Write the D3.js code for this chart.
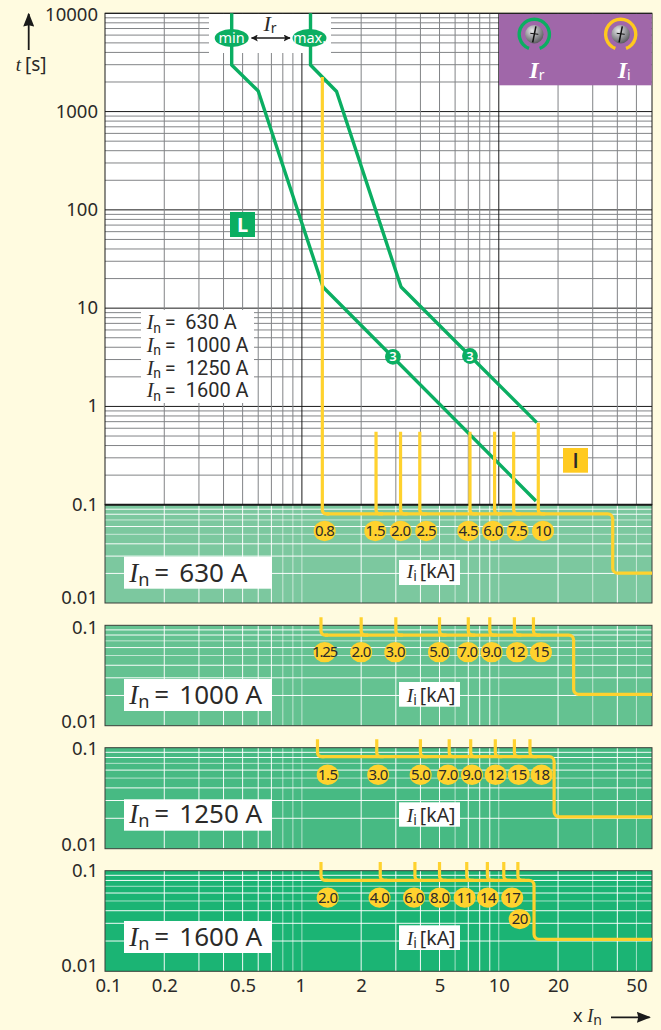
<!DOCTYPE html>
<html><head><meta charset="utf-8">
<script src="https://cdn.jsdelivr.net/npm/d3@7"></script>
<style>
html,body{margin:0;padding:0;background:#FFFBE0;}
svg{display:block;}
text{font-family:"Noto Sans",sans-serif;fill:#2b2a29;}
.it{font-family:"Liberation Serif",serif;font-style:italic;}
.rb{font-family:Roboto,sans-serif;}
</style></head><body>
<svg id="c" width="661" height="1030"></svg>
<script>
// ---------- data ----------
const xTickLabels = [0.1,0.2,0.5,1,2,5,10,20,50];
const mainTimeTicks = [10000,1000,100,10,1,0.1,0.01];
const panelTimeTicks = [0.1,0.01];

const curveMinX = [0.44,0.44,0.60,1.28,15.45];
const curveMinT = [10000,2980,1620,16.4,0.109];
const curveMaxX = [1.106,1.106,1.50,3.19,15.6];
const curveMaxT = [10000,2980,1600,16.4,0.684];
const markerX = [2.9,7.14];
const markerT = [3.2,3.26];

const labels630 = ["0.8","1.5","2.0","2.5","4.5","6.0","7.5","10"];
const stems630 = [1.27,2.38,3.17,3.97,7.14,9.52,11.9,15.87];
const tops630 = [2250,0.554,0.554,0.554,0.554,0.554,0.554,0.684];
const bubbleX630 = [1.305,2.36,3.175,4.28,7.0,9.34,12.47,16.77];
const bubbleT630 = [0.054,0.054,0.054,0.054,0.054,0.054,0.054,0.054];

const labels1000 = ["1.25","2.0","3.0","5.0","7.0","9.0","12","15"];
const stems1000 = [1.25,2,3,5,7,9,12,15];
const bubbleX1000 = [1.305,2.0,2.98,4.97,6.97,9.2,12.37,16.38];
const bubbleT1000 = [0.054,0.054,0.054,0.054,0.054,0.054,0.054,0.054];

const labels1250 = ["1.5","3.0","5.0","7.0","9.0","12","15","18"];
const stems1250 = [1.2,2.4,4,5.6,7.2,9.6,12,14.4];
const bubbleX1250 = [1.352,2.44,4.01,5.52,7.31,9.64,12.62,16.5];
const bubbleT1250 = [0.054,0.054,0.054,0.054,0.054,0.054,0.054,0.054];

const labels1600 = ["2.0","4.0","6.0","8.0","11","14","17","20"];
const stems1600 = [1.25,2.5,3.75,5,6.875,8.75,10.6,12.5];
const bubbleX1600 = [1.352,2.48,3.71,5.01,6.71,8.81,11.7,12.77];
const bubbleT1600 = [0.054,0.054,0.054,0.054,0.054,0.054,0.054,0.033];

const stepX = [37.9,24,19.1,15.1];
const stepHighT = [0.0806,0.08,0.0815,0.0803];
const stepLowT = [0.0201,0.0205,0.0207,0.0208];
const stemTopT = [0.12,0.121,0.122];
const ratedLabels = ["630 A","1000 A","1250 A","1600 A"];

// ---------- scales ----------
const GREEN="#0BAE62", YEL="#FFD22E", GRID="#828487", DARK="#1a1a1a";
const svg=d3.select("#c");
const X0=105, X1=652;
const x=d3.scaleLog().domain([0.1,60]).range([X0,X1]);
const yMain=d3.scaleLog().domain([10000,0.01]).range([13.3,603]);
const yP=[
  d3.scaleLog().domain([0.1,0.01]).range([625.3,725.7]),
  d3.scaleLog().domain([0.1,0.01]).range([747.7,848.7]),
  d3.scaleLog().domain([0.1,0.01]).range([870.7,971.3])
];
const panelFill=["#7CC89F","#64C291","#47BA83","#1BB474"];
const isDecade=v=>Math.abs(Math.log10(v)-Math.round(Math.log10(v)))<1e-6;

// ---------- main plot background and grid ----------
svg.append("rect").attr("x",X0).attr("y",yMain(10000)).attr("width",X1-X0).attr("height",yMain(0.1)-yMain(10000)).attr("fill","#fff");
const gMain=svg.append("g");
const upperT=yMain.ticks().filter(v=>v>0.1+1e-9);
gMain.selectAll(".hg").data(upperT).join("line")
  .attr("x1",X0).attr("x2",X1).attr("y1",yMain).attr("y2",yMain)
  .attr("stroke",d=>isDecade(d)?DARK:GRID).attr("stroke-width",1);
gMain.selectAll(".vg").data(x.ticks().filter(v=>v>0.1&&v<60)).join("line")
  .attr("x1",x).attr("x2",x).attr("y1",yMain(10000)).attr("y2",yMain(0.1))
  .attr("stroke",d=>isDecade(d)?DARK:GRID).attr("stroke-width",1);

// white masks over the grid
function box(x0,y0,x1,y1,f){svg.append("rect").attr("x",x0).attr("y",y0).attr("width",x1-x0).attr("height",y1-y0).attr("fill",f||"#fff");}
box(209,14,331,53);
box(141,310,254,403);
svg.append("rect").attr("x",X0).attr("y",yMain(10000)).attr("width",X1-X0).attr("height",yMain(0.1)-yMain(10000))
  .attr("fill","none").attr("stroke",DARK).attr("stroke-width",1);

// ---------- lower panels ----------
function panel(fill,y,top,bot){
  const g=svg.append("g");
  g.append("rect").attr("x",X0).attr("y",top).attr("width",X1-X0).attr("height",bot-top).attr("fill",fill);
  const ys=d3.scaleLog().domain([0.1,0.01]).ticks().filter(v=>v>0.01+1e-9&&v<0.1-1e-9);
  g.selectAll(".h").data(ys).join("line").attr("x1",X0).attr("x2",X1).attr("y1",y).attr("y2",y)
    .attr("stroke","#fff").attr("stroke-opacity",d=>(Math.abs(d-0.07)<1e-6||Math.abs(d-0.05)<1e-6)?0.6:0.95);
  g.selectAll(".v").data(x.ticks().filter(v=>v>0.1&&v<60)).join("line").attr("x1",x).attr("x2",x).attr("y1",top).attr("y2",bot)
    .attr("stroke","#fff").attr("stroke-opacity",d=>(Math.abs(d-0.8)<1e-6||Math.abs(d-0.9)<1e-6||Math.abs(d-1)<1e-6||d===6||d===10||d===30||d===50)?0.6:0.95);
  return g;
}
panel(panelFill[0],yMain,yMain(0.1),yMain(0.01));
yP.forEach((y,i)=>panel(panelFill[i+1],y,y(0.1),y(0.01)));

// panel borders
[yMain,yP[0],yP[1],yP[2]].forEach(y=>{
  svg.append("rect").attr("x",X0).attr("y",y(0.1)).attr("width",X1-X0).attr("height",y(0.01)-y(0.1))
    .attr("fill","none").attr("stroke","#3a3f3a").attr("stroke-width",1);
});
svg.append("line").attr("x1",X0).attr("x2",X1).attr("y1",yMain(0.1)).attr("y2",yMain(0.1)).attr("stroke",DARK).attr("stroke-width",2);

// ---------- rated-current text ----------
function inLabel(px,base,size,txt,dN,dE,dV,cls){
  svg.append("text").attr("class","it").attr("x",px).attr("y",base).attr("font-size",size*1.04).text("I");
  svg.append("text").attr("class",cls).attr("x",px+dN).attr("y",base+size*0.16).attr("font-size",size*0.7).text("n");
  svg.append("text").attr("class",cls).attr("x",px+dE).attr("y",base).attr("font-size",size).text("=");
  svg.append("text").attr("class",cls).attr("x",px+dV).attr("y",base).attr("font-size",size).text(txt);
}
[329.3,352,375,397.3].forEach((b,i)=>inLabel(146.7,b,20,ratedLabels[i],6.5,18,i===0?38.5:39,"rb"));
[[556.7,588.7,582.3],[679,711,704.3],[799.3,830.7,823.3],[921,953,946]].forEach((r,i)=>{
  box(124,r[0],272,r[1]);
  inLabel(129.3,r[2],26,ratedLabels[i],9,25,50,null);
});
[[560,585,578.3],[682,706.7,701.7],[802.3,826.7,821.7],[925.3,950,945]].forEach(r=>{
  box(399,r[0],460,r[1]);
  const t=svg.append("text").attr("x",406.7).attr("y",r[2]).attr("font-size",19.5);
  t.append("tspan").attr("class","it").text("I");
  t.append("tspan").attr("font-size",14).attr("dy",3).text("i");
  t.append("tspan").attr("dy",-3).attr("dx",3).text("[kA]");
});

// ---------- curves ----------
const line=d3.line().x(d=>x(d[0])).y(d=>yMain(d[1]));
[[curveMinX,curveMinT],[curveMaxX,curveMaxT]].forEach(([xs,ts])=>{
  svg.append("path").attr("d",line(xs.map((v,i)=>[v,ts[i]]))).attr("fill","none").attr("stroke",GREEN).attr("stroke-width",3.4).attr("stroke-linejoin","round");
});
// Ir selector
[[curveMinX[0],"min"],[curveMaxX[0],"max."]].forEach(([v,t])=>{
  svg.append("ellipse").attr("cx",x(v)-(t==="max."?1:0)).attr("cy",38).attr("rx",17).attr("ry",9).attr("fill",GREEN);
  svg.append("text").attr("x",x(v)-(t==="max."?1:0)).attr("y",43.3).attr("text-anchor","middle").attr("font-size",14.5).style("fill","#fff").text(t);
});
svg.append("defs").html(`<marker id="ah" viewBox="0 0 10 10" refX="9" refY="5" markerWidth="7" markerHeight="7" markerUnits="userSpaceOnUse" orient="auto-start-reverse"><path d="M0,0L10,5L0,10L2,5Z" fill="#1a1a1a"/></marker>
<marker id="ab" viewBox="0 0 10 10" refX="9" refY="5" markerWidth="14" markerHeight="11" markerUnits="userSpaceOnUse" orient="auto" preserveAspectRatio="none"><path d="M0,0L10,5L0,10L1,5Z" fill="#1a1a1a"/></marker>
<radialGradient id="knob" cx="0.38" cy="0.3" r="0.8"><stop offset="0" stop-color="#e8e8ea"/><stop offset="0.55" stop-color="#8f9094"/><stop offset="1" stop-color="#4a4b4f"/></radialGradient>`);
svg.append("line").attr("x1",251.5).attr("x2",290).attr("y1",38).attr("y2",38).attr("stroke",DARK).attr("stroke-width",1.5)
  .attr("marker-start","url(#ah)").attr("marker-end","url(#ah)");
const irT=svg.append("text").attr("x",263.5).attr("y",31).attr("font-size",22);
irT.append("tspan").attr("class","it").text("I");
irT.append("tspan").attr("font-size",14).attr("dy",2).text("r");

// ---------- yellow instantaneous trip lines ----------
function rounded(pts,r){
  const p=d3.path();p.moveTo(pts[0][0],pts[0][1]);
  for(let i=1;i<pts.length-1;i++)p.arcTo(pts[i][0],pts[i][1],pts[i+1][0],pts[i+1][1],r);
  const l=pts[pts.length-1];p.lineTo(l[0],l[1]);return p.toString();
}
function yl(d){svg.append("path").attr("d",d).attr("fill","none").attr("stroke",YEL).attr("stroke-width",3.2);}
function trip(y,stems,tops,hi,lo,stepx){
  stems.forEach((s,i)=>{
    const f=x(s), h=y(hi);
    yl(rounded([[f,y(tops[i])],[f,h],[f+7,h]],4));
  });
  yl(rounded([[x(stems[0])+4,y(hi)],[x(stepx),y(hi)],[x(stepx),y(lo)],[X1,y(lo)]],5));
}
function bubbles(y,labels,bx,bt){
  labels.forEach((l,i)=>{
    const cx=x(bx[i]),cy=y(bt[i]);
    svg.append("ellipse").attr("cx",cx).attr("cy",cy).attr("rx",11).attr("ry",10.2).attr("fill",YEL);
    svg.append("text").attr("x",cx).attr("y",cy+5).attr("text-anchor","middle").attr("font-size",15)
      .attr("letter-spacing",l.length>3?-1.2:-0.6).text(l);
  });
}
trip(yMain,stems630,tops630,stepHighT[0],stepLowT[0],stepX[0]);
trip(yP[0],stems1000,stems1000.map(()=>stemTopT[0]),stepHighT[1],stepLowT[1],stepX[1]);
trip(yP[1],stems1250,stems1250.map(()=>stemTopT[1]),stepHighT[2],stepLowT[2],stepX[2]);
trip(yP[2],stems1600,stems1600.map(()=>stemTopT[2]),stepHighT[3],stepLowT[3],stepX[3]);
bubbles(yMain,labels630,bubbleX630,bubbleT630);
bubbles(yP[0],labels1000,bubbleX1000,bubbleT1000);
bubbles(yP[1],labels1250,bubbleX1250,bubbleT1250);
bubbles(yP[2],labels1600,bubbleX1600,bubbleT1600);

// green "3" markers
markerX.forEach((v,i)=>{
  svg.append("circle").attr("cx",x(v)).attr("cy",yMain(markerT[i])).attr("r",7.9).attr("fill",GREEN);
  svg.append("text").attr("x",x(v)).attr("y",yMain(markerT[i])+4.7).attr("text-anchor","middle").attr("font-size",13).attr("font-weight",600).style("fill","#fff").text("3");
});

// L and I tags
box(230,212,255,237,GREEN);
svg.append("text").attr("x",242.5).attr("y",232).attr("text-anchor","middle").attr("font-size",20).attr("font-weight",700).style("fill","#fff").text("L");
box(563,448,588,472.7,"#FFCA20");
svg.append("text").attr("class","rb").attr("x",575.5).attr("y",467.5).attr("text-anchor","middle").attr("font-size",20).attr("font-weight",500).text("I");

// ---------- purple setting panel ----------
box(499,14,651.7,85.3,"#A067A9");
const arc=d3.arc().innerRadius(13.4).outerRadius(16.8).startAngle(-Math.PI+0.36).endAngle(Math.PI-0.36);
[[534.3,GREEN,529.3,"r"],[620.7,"#FFC81E",617.7,"i"]].forEach(([cx,col,tx,sub])=>{
  const g=svg.append("g").attr("transform",`translate(${cx},34.3)`);
  g.append("path").attr("d",arc()).attr("fill",col);
  g.append("circle").attr("r",9.2).attr("fill","url(#knob)");
  g.append("line").attr("x1",1.6).attr("y1",-8).attr("x2",-1.6).attr("y2",8).attr("stroke","#111").attr("stroke-width",1.5);
  g.append("line").attr("x1",-4).attr("y1",-1).attr("x2",4).attr("y2",0).attr("stroke","#111").attr("stroke-width",1);
  const t=svg.append("text").attr("x",tx).attr("y",78).attr("font-size",24);
  t.append("tspan").attr("class","it").style("fill","#fff").style("font-weight",700).text("I");
  t.append("tspan").attr("font-size",14).attr("dy",2).style("fill","#fff").text(sub);
});

// ---------- axes (labels only) ----------
function clean(g){g.select(".domain").remove();g.selectAll(".tick line").remove();
  g.selectAll("text").attr("font-size",18.5).style("font-family",'"Noto Sans",sans-serif').style("fill","#2b2a29");}
const axM=svg.append("g").attr("transform","translate(98,0)")
  .call(d3.axisLeft(yMain).tickValues(mainTimeTicks).tickFormat(d=>String(d)).tickSize(0).tickPadding(0)).call(clean);
const mainDy={10000:1,1000:-1,100:-1,10:-1,1:-1,0.1:-1,0.01:-6};
axM.selectAll(".tick text").attr("dy",d=>(6.5+mainDy[d])+"px");
const pDy=[[2,-5],[0.5,-5],[-0.5,-6]];
yP.forEach((y,i)=>{
  const a=svg.append("g").attr("transform","translate(98,0)")
    .call(d3.axisLeft(y).tickValues(panelTimeTicks).tickFormat(d=>String(d)).tickSize(0).tickPadding(0)).call(clean);
  a.selectAll(".tick text").attr("dy",d=>(6.5+(d===0.1?pDy[i][0]:pDy[i][1]))+"px");
});
const axB=svg.append("g").attr("transform","translate(0,"+yP[2](0.01)+")")
  .call(d3.axisBottom(x).tickValues(xTickLabels).tickFormat(d=>String(d)).tickSize(0).tickPadding(0)).call(clean);
axB.selectAll(".tick text").attr("y",0).attr("dy","21px").attr("dx",d=>d===0.1?3:(d===1?-1.5:0));

// ---------- axis captions ----------
svg.append("line").attr("x1",28.7).attr("x2",28.7).attr("y1",50).attr("y2",14).attr("stroke",DARK).attr("stroke-width",1.8).attr("marker-end","url(#ab)");
const ty=svg.append("text").attr("x",15.7).attr("y",71).attr("font-size",19);
ty.append("tspan").attr("class","it").text("t");
ty.append("tspan").attr("dx",4).text("[s]");
const tx=svg.append("text").attr("x",573).attr("y",1022).attr("font-size",18);
tx.append("tspan").text("x ");
tx.append("tspan").attr("class","it").text("I");
tx.append("tspan").attr("font-size",14).attr("dy",3).text("n");
svg.append("line").attr("x1",611).attr("x2",649.5).attr("y1",1017.3).attr("y2",1017.3).attr("stroke",DARK).attr("stroke-width",1.8).attr("marker-end","url(#ab)");
</script>
</body></html>
